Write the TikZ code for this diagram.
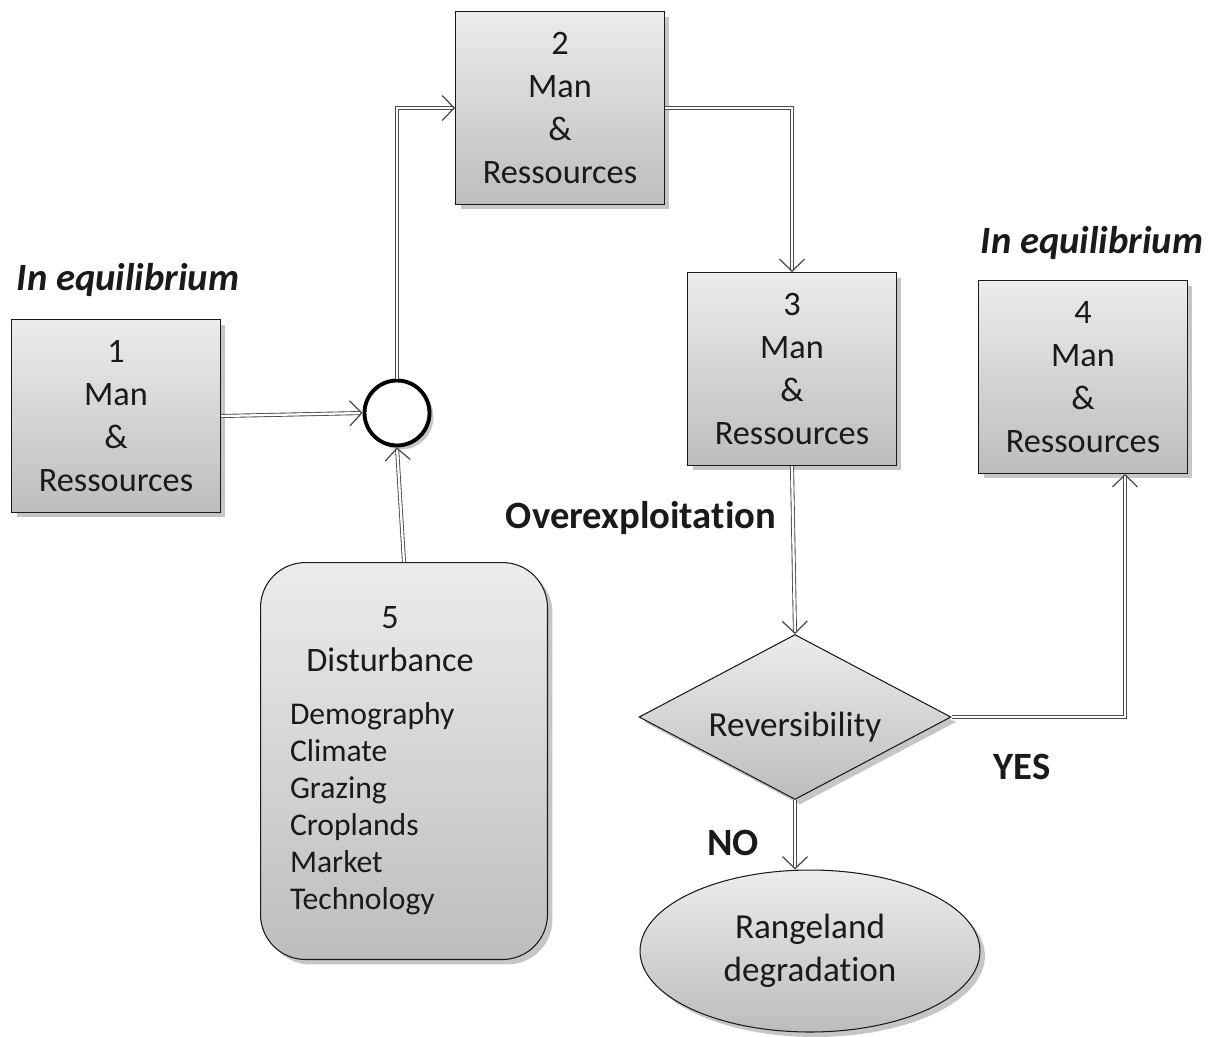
\documentclass[tikz,border=0pt]{standalone}
\usepackage{fontspec}
\setmainfont{Carlito}[Ligatures=NoCommon]
\usetikzlibrary{arrows.meta,positioning,calc,shapes.geometric,shadows}
\definecolor{ink}{HTML}{1A1A1A}
\definecolor{wire}{HTML}{4A4A4A}
\definecolor{paletop}{HTML}{ECECEC}
\definecolor{palebottom}{HTML}{BDBDBD}

\begin{document}
\begin{tikzpicture}[
  x=0.02cm,y=-0.02cm,
  node distance=2mm and 2mm,
  every node/.style={text=ink,align=center},
  greyfill/.style={top color=paletop,bottom color=palebottom,draw=ink,line width=0.6pt,
              drop shadow={shadow xshift=1mm,shadow yshift=-1mm,fill=gray,opacity=0.45}},
  box/.style={greyfill,font=\fontsize{19.5}{24.4}\selectfont,
              minimum width=4.18cm,minimum height=3.86cm,inner sep=0pt},
  tag/.style={font=\fontsize{22}{26}\selectfont\bfseries},
  link/.style={draw=wire,line width=0.5pt,double=white,double distance=1.3pt,
              -{Straight Barb[length=2.4mm,width=5mm,line width=0.7pt]}}
]
\useasboundingbox (0,0) rectangle (1221,1036);

% main boxes
\node[box] (b1) at (116,416) {1\\Man\\\&\\Ressources};
\node[box] (b2) at (560,108) {2\\Man\\\&\\Ressources};
\node[box] (b3) at (792,369) {3\\Man\\\&\\Ressources};
\node[box] (b4) at (1083,377) {4\\Man\\\&\\Ressources};

% junction
\node[circle,draw=black,line width=2.2pt,fill=white,minimum size=1.3cm,inner sep=0pt,
      drop shadow={shadow xshift=0.8mm,shadow yshift=-0.8mm,fill=gray,opacity=0.45}]
      (circ) at (397,413) {};

% disturbance
\node[greyfill,rounded corners=0.9cm,minimum width=5.74cm,minimum height=7.94cm,inner sep=0pt]
      (b5) at (404,761) {%
  \begin{minipage}{4cm}
    {\fontsize{19.5}{24.4}\selectfont\centering 5\\Disturbance\par}
    \vspace{9pt}
    {\fontsize{18}{21.1}\selectfont\raggedright
     Demography\\Climate\\Grazing\\Croplands\\Market\\Technology\par}
  \end{minipage}\hspace{0.56cm}};

% decision
\node[diamond,greyfill,aspect=1.9,minimum width=6.24cm,minimum height=3.3cm,inner sep=0pt,
      text height=26pt,text depth=4pt,
      font=\fontsize{20}{24}\selectfont] (dia) at (795,717) {Reversibility};
\node[ellipse,greyfill,minimum width=6.8cm,minimum height=3.24cm,inner sep=0pt,
      font=\fontsize{20}{24.4}\selectfont] (ell) at (810,951) {Rangeland\\degradation};

% labels
\node[tag,font=\fontsize{22}{26}\selectfont\bfseries\itshape] (eq1) at (128,280) {In equilibrium};
\node[tag,font=\fontsize{22}{26}\selectfont\bfseries\itshape] (eq4) at (1092,243) {In equilibrium};
\node[tag] (over) at (641,518) {Overexploitation};
\node[tag] (yes) at (1022,767) {YES};
\node[tag] (no) at (733,843) {NO};

% connectors
\draw[link] (b1.east) -- (circ.west);
\draw[link] (b5.north) -- (circ.south);
\draw[link] (circ.north) |- (b2.west);
\draw[link] (b2.east) -| (b3.north);
\draw[link] (b3.south) -- (dia.north);
\draw[link] (dia.east) -| ([xshift=0.84cm]b4.south);
\draw[link] (dia.south) -- (dia.south |- ell.north);
\end{tikzpicture}
\end{document}
